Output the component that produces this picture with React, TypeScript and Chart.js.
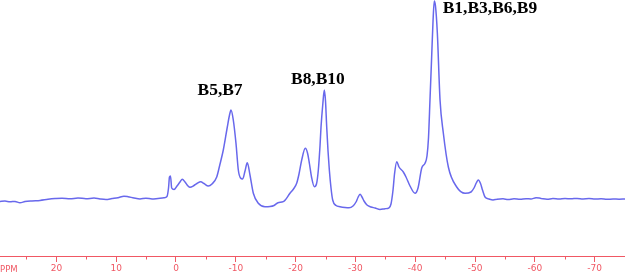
import React, { useEffect, useRef } from "react";
import { Chart, registerables } from "chart.js";

Chart.register(...registerables);

// chemical shift (ppm) and intensity
const ppm: number[] = [
  29.43, 28.6, 27.76, 26.92, 26.09, 25.25, 24.08, 22.74, 21.4, 20.23, 19.06, 17.73, 16.39, 15.05, 13.71,
  12.71, 11.71, 10.7, 9.7, 8.7, 8.03, 7.02, 6.02, 5.02, 4.01, 3.01, 2.01, 1.51, 1.25, 1.09, 0.92, 0.72,
  0.33, -0.17, -0.67, -1.05, -1.51, -2.01, -2.34, -3.01, -3.51, -4.13, -4.68, -5.4, -6.02, -6.81, -7.36,
  -7.91, -8.58, -8.95, -9.2, -9.58, -10.03, -10.42, -10.79, -11.15, -11.54, -11.92, -12.37, -12.93,
  -13.76, -14.88, -15.72, -16.39, -17.06, -17.94, -19.06, -19.65, -20.18, -20.57, -21.02, -21.62,
  -21.99, -22.32, -22.66, -23.13, -23.49, -23.8, -24.08, -24.25, -24.55, -24.8, -25.0, -25.2, -25.42,
  -25.64, -25.92, -26.2, -26.76, -27.42, -28.26, -28.93, -29.6, -30.1, -30.43, -30.77, -31.1, -31.44,
  -31.94, -32.61, -33.28, -34.11, -34.95, -35.62, -35.95, -36.29, -36.54, -36.91, -37.29, -38.01,
  -38.46, -39.13, -39.97, -40.47, -41.09, -41.64, -41.97, -42.22, -42.47, -42.73, -42.98, -43.19,
  -43.39, -43.7, -44.15, -44.7, -45.54, -46.94, -48.33, -49.33, -49.83, -50.25, -50.55, -50.92, -51.25,
  -51.67, -52.34, -53.01, -53.68, -54.68, -55.52, -56.52, -57.53, -58.53, -59.36, -60.2, -61.04, -62.04,
  -63.04, -64.05, -65.05, -66.05, -67.06, -68.06, -69.06, -70.07, -71.07, -72.07, -73.08, -74.08, -75.08,
];

const intensity: number[] = [
  54.5, 54.9, 54.2, 54.6, 53.2, 54.4, 55.1, 55.6, 56.7, 57.4, 57.8, 57.2, 58.0, 57.3, 57.9,
  57.0, 56.5, 57.4, 58.3, 59.8, 59.3, 58.0, 57.1, 57.8, 57.0, 57.6, 58.2, 59.5, 68, 79, 80, 68,
  66.5, 70, 74, 76.7, 74, 70, 68.7, 70.5, 72.5, 74.3, 72.5, 70, 72, 79, 92,
  106, 129, 141, 146, 136, 112.7, 86, 78, 77, 85, 93.3, 81, 62.7,
  52.7, 49.3, 49.5, 50.5, 53.3, 54.3, 62.7, 67, 72.7, 82, 96, 107.7,
  103, 92, 79, 69.3, 72, 86, 110, 129, 152, 166, 155, 129, 105,
  86, 68, 56, 50.5, 49.3, 48.5, 48.2, 50, 54, 58.5, 61.7, 59, 55,
  51, 49, 48, 46.5, 47.3, 48.2, 52, 66, 82, 94.3, 89, 84,
  79, 70, 62.7, 68, 88, 92.7, 100, 118, 156, 196, 235, 255,
  250, 223, 156, 123, 89, 69, 62.7, 64, 68, 73.5, 76, 72.5, 66,
  59, 57, 56, 56.8, 57.2, 56.5, 57.2, 56.7, 57.3, 57.0, 58.3, 57.6, 56.8,
  57.4, 57.0, 57.5, 57.2, 57.6, 57.1, 57.4, 56.9, 57.3, 56.7, 57.0, 56.8, 57.0,
];

const peakLabels: string[] = ["B5,B7", "B8,B10", "B1,B3,B6,B9"];
const peakLabelPpm: number[] = [-3.6, -19.23, -44.6];
const peakLabelLevel: number[] = [161, 172, 243.5];

const minorTicks: number[] = [25, 15, 5, -5, -15, -25, -35, -45, -55, -65, -75];

const RED = "rgb(240,88,100)";
const BLUE = "rgb(104,104,236)";

const overlay = {
  id: "overlay",
  afterDraw(chart: any) {
    const { ctx, scales } = chart;
    const x = scales.x;
    const y = scales.y;
    ctx.save();
    // minor ticks
    ctx.strokeStyle = RED;
    ctx.lineWidth = 1;
    const top = x.top;
    for (const v of minorTicks) {
      const px = Math.round(x.getPixelForValue(v)) + 0.5;
      ctx.beginPath();
      ctx.moveTo(px, top);
      ctx.lineTo(px, top + 3.5);
      ctx.stroke();
    }
    // axis unit
    ctx.fillStyle = RED;
    ctx.font = "8.5px 'DejaVu Sans'";
    ctx.textBaseline = "alphabetic";
    ctx.textAlign = "left";
    ctx.fillText("PPM", 0, 272);
    // peak labels
    ctx.fillStyle = "#000";
    ctx.font = "bold 16px 'Liberation Serif'";
    peakLabels.forEach((t, i) => {
      const px = x.getPixelForValue(peakLabelPpm[i]);
      const py = y.getPixelForValue(peakLabelLevel[i]);
      ctx.save();
      ctx.translate(px, py);
      ctx.scale(1.09, 1);
      ctx.fillText(t, 0, 0);
      ctx.restore();
    });
    ctx.restore();
  },
};

export default function App() {
  const ref = useRef<HTMLCanvasElement | null>(null);
  useEffect(() => {
    document.body.style.margin = "0";
    const canvas = ref.current!;
    const chart = new Chart(canvas, {
      type: "line",
      data: {
        datasets: [
          {
            data: ppm.map((p, i) => ({ x: p, y: intensity[i] })),
            borderColor: BLUE,
            borderWidth: 1.5,
            pointRadius: 0,
            cubicInterpolationMode: "monotone",
            fill: false,
          },
        ],
      },
      options: {
        animation: false,
        responsive: false,
        devicePixelRatio: 1,
        layout: { padding: 0 },
        plugins: { legend: { display: false }, tooltip: { enabled: false } },
        scales: {
          x: {
            type: "linear",
            reverse: true,
            min: -75.08,
            max: 29.43,
            position: "bottom",
            grid: {
              drawOnChartArea: false,
              drawTicks: true,
              tickLength: 6,
              color: RED,
              tickColor: RED,
              tickWidth: 1,
            },
            border: { color: RED, width: 1 },
            ticks: {
              stepSize: 10,
              includeBounds: false,
              color: RED,
              font: { size: 9, family: "'DejaVu Sans'" },
              padding: 1,
              maxRotation: 0,
              autoSkip: false,
            },
            afterFit: (s: any) => {
              s.height = 17;
            },
          },
          y: { display: false, min: 0, max: 256 },
        },
      },
      plugins: [overlay],
    });
    return () => chart.destroy();
  }, []);
  return (
    <div style={{ width: 625, height: 273 }}>
      <canvas ref={ref} width={625} height={273} />
    </div>
  );
}
